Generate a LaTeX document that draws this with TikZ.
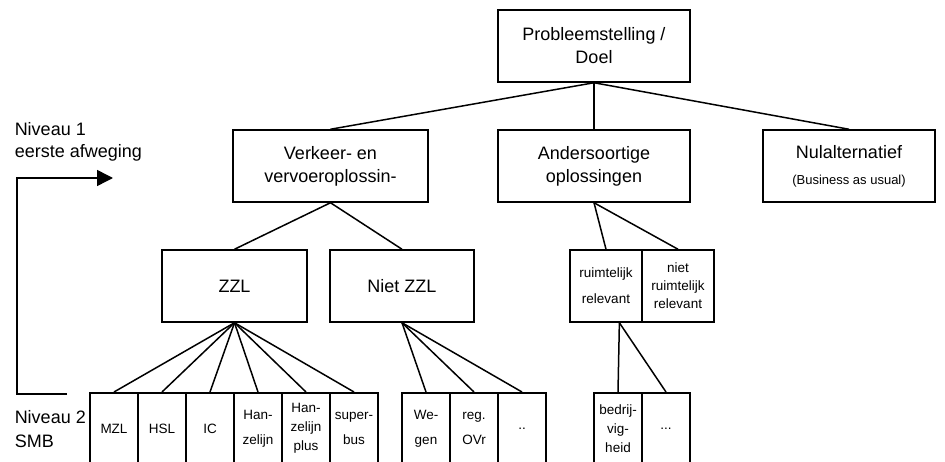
\documentclass[tikz,border=0pt]{standalone}
\usepackage{fontspec}
\setmainfont{Liberation Sans}
\usetikzlibrary{arrows.meta}

\begin{document}
\begin{tikzpicture}[x=1pt,y=-1pt,line width=1.5pt]
    \tikzstyle{every node}+=[inner sep=0pt]
    \tikzstyle{box}=[draw,align=center,minimum height=72,font=\fontsize{18}{23}\selectfont]
    \tikzstyle{half}=[draw,align=center,minimum width=72,minimum height=72,font=\fontsize{13.5}{18}\selectfont]
    \tikzstyle{leaf}=[draw,align=center,anchor=north,minimum width=48,minimum height=72,font=\fontsize{13.5}{19}\selectfont]
    \tikzstyle{level}=[anchor=west,align=left,font=\fontsize{18}{22}\selectfont]
    \useasboundingbox (0,0) rectangle (945,462);
    \clip (0,0) rectangle (945,462);
    \node [box,minimum width=192] (doel) at (594,46) {Probleemstelling /\\Doel};
    \node [box,minimum width=195] (verkeer) at (330.5,166) {Verkeer- en\\vervoeroplossin-};
    \node [box,minimum width=192] (anders) at (594,166) {Andersoortige\\oplossingen};
    \node [box,minimum width=172] (nul) at (849,166) {Nulalternatief\\[3pt]\fontsize{13}{15}\selectfont(Business as usual)};
    \node [box,minimum width=145] (zzl) at (234.5,286) {ZZL};
    \node [box,minimum width=144] (nietzzl) at (402,286) {Niet ZZL};
    \node [half,font=\fontsize{13.5}{26}\selectfont] (rr) at (606,286) {ruimtelijk\\relevant};
    \node [half] (nrr) at (678,286) {niet\\ruimtelijk\\relevant};
    \node [leaf] (mzl) at (114,392) {MZL};
    \node [leaf] (hsl) at (162,392) {HSL};
    \node [leaf] (ic) at (210,392) {IC};
    \node [leaf] (hanz) at (258,392) {Han-\\[6pt]zelijn};
    \node [leaf] (hanzp) at (306,392) {Han-\\zelijn\\plus};
    \node [leaf] (sbus) at (354,392) {super-\\[6pt]bus};
    \node [leaf] (wegen) at (426,392) {We-\\[6pt]gen};
    \node [leaf] (ovr) at (474,392) {reg.\\[6pt]OVr};
    \node [leaf] (verder) at (522,392) {..};
    \node [leaf] (bedr) at (618,392) {bedrij-\\vig-\\heid};
    \node [leaf] (overig) at (666,392) {...};
    \draw (doel.south) -- (verkeer.north);
    \draw (doel.south) -- (anders.north);
    \draw (doel.south) -- (nul.north);
    \draw (verkeer.south) -- (zzl.north);
    \draw (verkeer.south) -- (nietzzl.north);
    \draw (anders.south) -- (rr.north);
    \draw (anders.south) -- (nrr.north);
    \foreach \l in {mzl,hsl,ic,hanz,hanzp,sbus}
        \draw (zzl.south) -- (\l.north);
    \foreach \l in {wegen,ovr,verder}
        \draw (nietzzl.south) -- (\l.north);
    \draw (rr.-70) -- (bedr.north);
    \draw (rr.-70) -- (overig.north);
    \node [level] (niv1) at (14,142) {Niveau 1\\eerste afweging};
    \node [level,font=\fontsize{18}{24}\selectfont] (niv2) at (14,429) {Niveau 2\\SMB};
    \coordinate (van) at (67,394);
    \coordinate (hoek) at (17,178);
    \coordinate (naar) at (113,178);
    \draw [-{Triangle[length=16pt,width=16pt]}] (van) -| (hoek) -- (naar);
\end{tikzpicture}
\end{document}
